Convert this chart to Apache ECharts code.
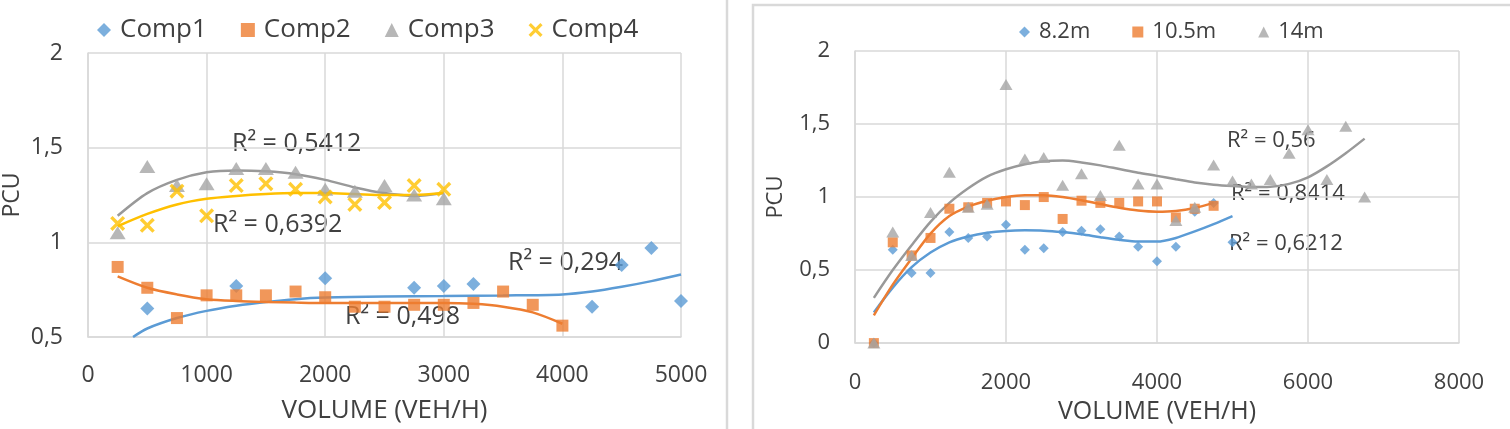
<!DOCTYPE html>
<html>
<head>
<meta charset="utf-8">
<script src="https://cdn.jsdelivr.net/npm/echarts@6/dist/echarts.min.js"></script>
<style>
  html, body { margin: 0; padding: 0; background: #fff; }
  #chart { width: 1510px; height: 429px; }
</style>
</head>
<body>
<div id="chart"></div>
<script>
// ---- left chart: Comp1..Comp4 ----
const comp1X = [500, 1250, 2000, 2750, 3000, 3250, 4250, 4500, 4750, 5000];
const comp1Y = [0.65, 0.77, 0.81, 0.76, 0.77, 0.78, 0.66, 0.88, 0.97, 0.69];
const comp2X = [250, 500, 750, 1000, 1250, 1500, 1750, 2000, 2250, 2500, 2750, 3000, 3250, 3500, 3750, 4000];
const comp2Y = [0.87, 0.76, 0.60, 0.72, 0.72, 0.72, 0.74, 0.71, 0.66, 0.66, 0.67, 0.67, 0.68, 0.74, 0.67, 0.56];
const comp3X = [250, 500, 750, 1000, 1250, 1500, 1750, 2000, 2250, 2500, 2750, 3000];
const comp3Y = [1.05, 1.40, 1.30, 1.31, 1.39, 1.39, 1.37, 1.28, 1.27, 1.30, 1.25, 1.23];
const comp4X = [250, 500, 750, 1000, 1250, 1500, 1750, 2000, 2250, 2500, 2750, 3000];
const comp4Y = [1.10, 1.09, 1.27, 1.14, 1.30, 1.31, 1.28, 1.24, 1.20, 1.21, 1.30, 1.28];

// trend lines
const trend1X = [380, 500, 750, 1000, 1250, 1500, 1750, 2000, 2500, 3000, 3500, 4000, 4250, 4500, 4750, 5000];
const trend1Y = [0.5, 0.545, 0.6, 0.638, 0.665, 0.685, 0.70, 0.708, 0.714, 0.716, 0.719, 0.725, 0.74, 0.765, 0.795, 0.83];
const trend2X = [250, 500, 750, 1000, 1250, 1500, 1750, 2000, 2250, 2500, 2750, 3000, 3250, 3500, 3750, 4000];
const trend2Y = [0.82, 0.76, 0.725, 0.70, 0.69, 0.685, 0.682, 0.68, 0.68, 0.68, 0.68, 0.68, 0.675, 0.66, 0.63, 0.57];
const trend3X = [250, 500, 750, 1000, 1250, 1500, 1750, 2000, 2250, 2500, 2750, 3000];
const trend3Y = [1.14, 1.26, 1.33, 1.37, 1.38, 1.375, 1.36, 1.33, 1.29, 1.26, 1.245, 1.26];
const trend4X = [250, 500, 750, 1000, 1250, 1500, 1750, 2000, 2250, 2500, 2750, 3000];
const trend4Y = [1.085, 1.15, 1.20, 1.23, 1.245, 1.255, 1.26, 1.26, 1.255, 1.25, 1.25, 1.26];
const leftR2 = ['R² = 0,294', 'R² = 0,498', 'R² = 0,5412', 'R² = 0,6392'];

// ---- right chart: 8.2m / 10.5m / 14m ----
const m82X = [250, 500, 750, 1000, 1250, 1500, 1750, 2000, 2250, 2500, 2750, 3000, 3250, 3500, 3750, 4000, 4250, 4500, 4750, 5000];
const m82Y = [0, 0.64, 0.48, 0.48, 0.76, 0.72, 0.73, 0.81, 0.64, 0.65, 0.76, 0.77, 0.78, 0.73, 0.66, 0.56, 0.66, 0.90, 0.96, 0.69];
const m105X = [250, 500, 750, 1000, 1250, 1500, 1750, 2000, 2250, 2500, 2750, 3000, 3250, 3500, 3750, 4000, 4250, 4500, 4750];
const m105Y = [0, 0.69, 0.60, 0.72, 0.92, 0.93, 0.96, 0.97, 0.945, 1.0, 0.85, 0.975, 0.96, 0.96, 0.97, 0.97, 0.86, 0.92, 0.94];
const m14X = [250, 500, 750, 1000, 1250, 1500, 1750, 2000, 2250, 2500, 2750, 3000, 3250, 3500, 3750, 4000, 4250, 4500, 4750, 5000, 5250, 5500, 5750, 6000, 6250, 6500, 6750];
const m14Y = [0, 0.76, 0.60, 0.895, 1.17, 0.93, 0.95, 1.77, 1.26, 1.27, 1.08, 1.16, 1.01, 1.355, 1.09, 1.09, 0.84, 0.93, 1.22, 1.11, 1.09, 1.12, 1.30, 1.46, 1.12, 1.485, 1.0];

const trendAX = [250, 500, 750, 1000, 1250, 1500, 1750, 2000, 2250, 2500, 2750, 3000, 3250, 3500, 3750, 4000, 4250, 4500, 4750, 5000];
const trendAY = [0.21, 0.38, 0.52, 0.62, 0.69, 0.73, 0.755, 0.768, 0.772, 0.77, 0.76, 0.745, 0.725, 0.707, 0.695, 0.695, 0.72, 0.765, 0.815, 0.87];
const trendBX = [250, 500, 750, 1000, 1250, 1500, 1750, 2000, 2250, 2500, 2750, 3000, 3250, 3500, 3750, 4000, 4250, 4500, 4750];
const trendBY = [0.19, 0.40, 0.58, 0.75, 0.87, 0.935, 0.975, 1.0, 1.012, 1.012, 1.0, 0.978, 0.952, 0.927, 0.908, 0.9, 0.905, 0.925, 0.96];
const trendCX = [250, 500, 750, 1000, 1250, 1500, 1750, 2000, 2250, 2500, 2750, 3000, 3250, 3500, 3750, 4000, 4250, 4500, 4750, 5000, 5250, 5500, 5750, 6000, 6250, 6500, 6750];
const trendCY = [0.31, 0.50, 0.67, 0.83, 0.96, 1.06, 1.14, 1.19, 1.225, 1.245, 1.25, 1.237, 1.217, 1.192, 1.167, 1.145, 1.122, 1.10, 1.085, 1.075, 1.068, 1.07, 1.09, 1.135, 1.21, 1.30, 1.40];
const rightR2 = ['R² = 0,56', 'R² = 0,8414', 'R² = 0,6212'];

const BLUE = '#5b9bd5', ORANGE = '#ed7d31', GREY = '#a5a5a5', YELLOW = '#ffc000';
const TEXT = '#404040', GRID = '#d9d9d9';
const FONT = 'Open Sans';
const CROSS = 'path://M1.6,0 L5,3.4 L8.4,0 L10,1.6 L6.6,5 L10,8.4 L8.4,10 L5,6.6 L1.6,10 L0,8.4 L3.4,5 L0,1.6 Z';

const zip = (xs, ys) => xs.map((x, i) => [x, ys[i]]);
const comma = v => String(v).replace('.', ',');

function xAxisCfg(idx, max, interval, fs, nameFs, gap, margin) {
    return {
        gridIndex: idx, type: 'value', min: 0, max: max, interval: interval,
        name: 'VOLUME (VEH/H)', nameLocation: 'middle', nameGap: gap,
        nameTextStyle: { fontFamily: FONT, fontSize: nameFs, color: TEXT },
        axisLine: { lineStyle: { color: GRID, width: 1.5 } },
        axisTick: { show: false },
        splitLine: { lineStyle: { color: GRID, width: 1.5 } },
        axisLabel: { fontFamily: FONT, fontSize: fs, color: TEXT, margin: margin, formatter: v => String(v) }
    };
}
function yAxisCfg(idx, min, gap, fs) {
    return {
        gridIndex: idx, type: 'value', min: min, max: 2, interval: 0.5,
        name: 'PCU', nameLocation: 'middle', nameGap: gap,
        nameTextStyle: { fontFamily: FONT, fontSize: fs, color: TEXT },
        axisLine: { show: true, lineStyle: { color: GRID, width: 1.5 } },
        axisTick: { show: false },
        splitLine: { lineStyle: { color: GRID, width: 1.5 } },
        axisLabel: { fontFamily: FONT, fontSize: fs, color: TEXT, margin: 25, formatter: comma }
    };
}
function pts(name, xs, ys, g, symbol, size, color) {
    return {
        name: name, type: 'scatter', xAxisIndex: g, yAxisIndex: g,
        data: zip(xs, ys), symbol: symbol, symbolSize: size,
        itemStyle: { color: color }, z: 3
    };
}
function trend(name, xs, ys, g, color) {
    return {
        name: name, type: 'line', xAxisIndex: g, yAxisIndex: g,
        data: zip(xs, ys), smooth: 0.3, showSymbol: false, symbol: 'none',
        lineStyle: { color: color, width: 2.5 }, z: 2, silent: true
    };
}
function r2(text, left, cy, fs) {
    return {
        type: 'text', left: left, top: cy - fs * 0.68,
        style: { text: text, fontFamily: FONT, fontSize: fs, fill: TEXT }
    };
}

const chart = echarts.init(document.getElementById('chart'));
chart.setOption({
    animation: false,
    backgroundColor: '#fff',
    grid: [
        { left: 88, right: 1510 - 681, top: 53, bottom: 429 - 339 },
        { left: 855, right: 1510 - 1459, top: 51, bottom: 429 - 345 }
    ],
    xAxis: [xAxisCfg(0, 5000, 1000, 23, 26, 61, 27), xAxisCfg(1, 8000, 2000, 22, 25, 51, 29)],
    yAxis: [yAxisCfg(0, 0.5, 64, 23), yAxisCfg(1, 0, 68, 22)],
    legend: [
        {
            left: 92, top: 12, itemWidth: 14, itemHeight: 14, itemGap: 34,
            textStyle: { fontFamily: FONT, fontSize: 26, color: TEXT, padding: [0, 0, 0, 4] },
            data: [
                { name: 'Comp1', icon: 'diamond' },
                { name: 'Comp2', icon: 'rect' },
                { name: 'Comp3', icon: 'triangle' },
                { name: 'Comp4', icon: CROSS }
            ]
        },
        {
            left: 1014, top: 16, itemWidth: 11, itemHeight: 11, itemGap: 42,
            textStyle: { fontFamily: FONT, fontSize: 22, color: TEXT, padding: [0, 0, 0, 4] },
            data: [
                { name: '8.2m', icon: 'diamond' },
                { name: '10.5m', icon: 'rect' },
                { name: '14m', icon: 'triangle' }
            ]
        }
    ],
    series: [
        trend('t1', trend1X, trend1Y, 0, BLUE),
        trend('t2', trend2X, trend2Y, 0, ORANGE),
        trend('t3', trend3X, trend3Y, 0, '#999999'),
        trend('t4', trend4X, trend4Y, 0, YELLOW),
        pts('Comp1', comp1X, comp1Y, 0, 'diamond', 14, BLUE),
        pts('Comp2', comp2X, comp2Y, 0, 'rect', 12, ORANGE),
        pts('Comp3', comp3X, comp3Y, 0, 'triangle', [16, 13], GREY),
        pts('Comp4', comp4X, comp4Y, 0, CROSS, 15, YELLOW),
        trend('tA', trendAX, trendAY, 1, BLUE),
        trend('tB', trendBX, trendBY, 1, ORANGE),
        trend('tC', trendCX, trendCY, 1, '#999999'),
        pts('8.2m', m82X, m82Y, 1, 'diamond', 10, BLUE),
        pts('10.5m', m105X, m105Y, 1, 'rect', 10, ORANGE),
        pts('14m', m14X, m14Y, 1, 'triangle', [13, 11], GREY)
    ],
    graphic: [
        { type: 'line', shape: { x1: 727, y1: 0, x2: 727, y2: 429 }, style: { stroke: GRID, lineWidth: 2.5 } },
        { type: 'rect', shape: { x: 753, y: 5, width: 800, height: 500 }, style: { fill: 'none', stroke: GRID, lineWidth: 2.5 } },
        r2(leftR2[0], 508, 267, 25),
        r2(leftR2[1], 345, 321, 25),
        r2(leftR2[2], 232, 148, 25),
        r2(leftR2[3], 213, 229, 25),
        r2(rightR2[0], 1227, 145, 22),
        r2(rightR2[1], 1231, 198, 22),
        r2(rightR2[2], 1229, 248, 22)
    ]
});
</script>
</body>
</html>
